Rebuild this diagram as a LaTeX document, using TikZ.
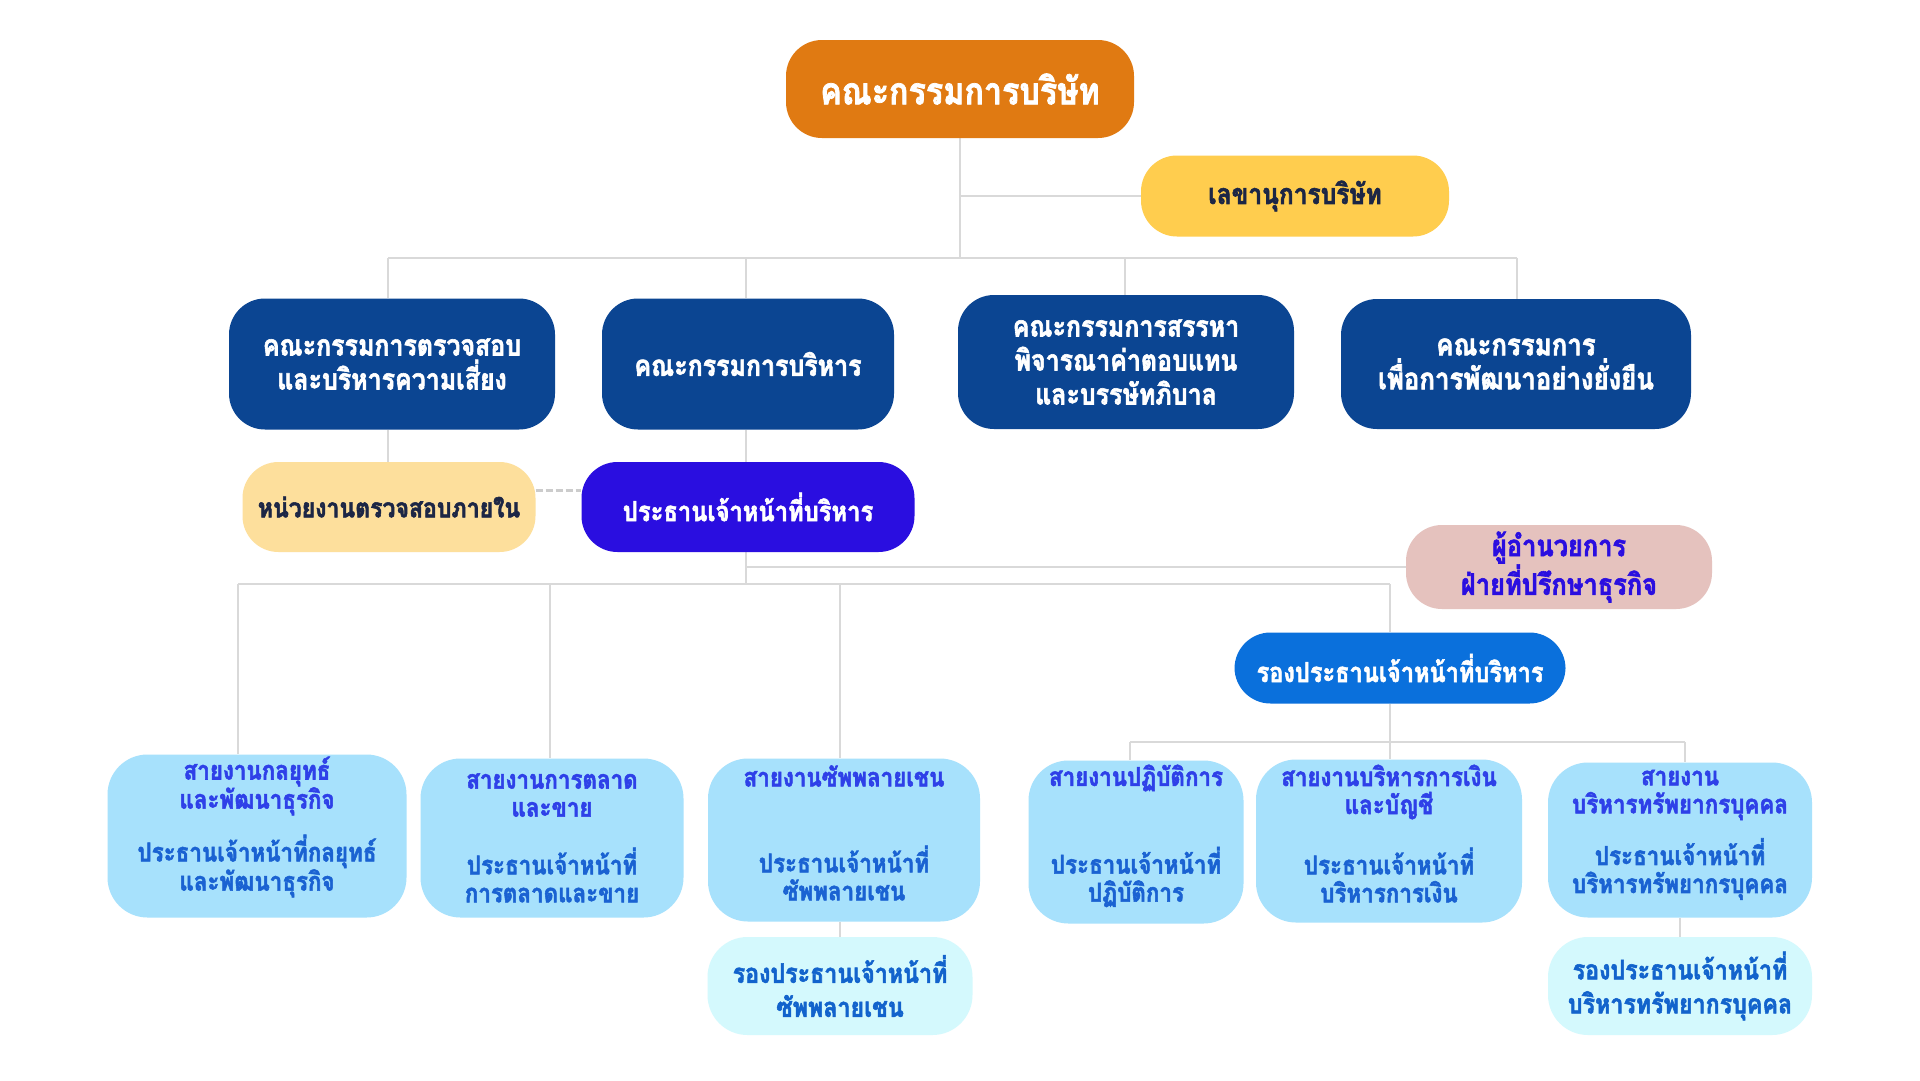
\documentclass[tikz,border=0pt]{standalone}
\usepackage{fontspec}
\newfontfamily\thai[Script=Thai,FakeStretch=0.86,BoldFeatures={FakeBold=2.0}]{Loma}
\usetikzlibrary{calc}
\pgfdeclarelayer{bg}
\pgfsetlayers{bg,main}
\definecolor{orangec}{HTML}{E07A12}
\definecolor{secc}{HTML}{FFCD4E}
\definecolor{navyc}{HTML}{0B4592}
\definecolor{auditc}{HTML}{FDDF9C}
\definecolor{ceoc}{HTML}{2A0EE0}
\definecolor{advc}{HTML}{E5C2BE}
\definecolor{depc}{HTML}{0A70DC}
\definecolor{lbluec}{HTML}{A7E1FC}
\definecolor{cyanc}{HTML}{D4F9FD}
\definecolor{lineg}{HTML}{D9D9D9}
\definecolor{dashg}{HTML}{CCCCCC}
\definecolor{darkt}{HTML}{1C2645}
\definecolor{titlet}{HTML}{2E40E8}
\definecolor{subt}{HTML}{1A62D2}
\definecolor{cyant}{HTML}{1263CC}
\begin{document}
\begin{tikzpicture}[x=1pt,y=-1pt,
  box/.style={rounded corners=36pt, inner sep=0pt, align=center, draw=none},
  navybox/.style={box, fill=navyc, text=white, font=\thai\bfseries\fontsize{29}{34}\selectfont},
  bluebox/.style={box, fill=lbluec, rounded corners=40pt},
  cyanbox/.style={box, fill=cyanc, text=cyant, rounded corners=40pt, font=\thai\bfseries\fontsize{27}{34}\selectfont},
  btitle/.style={align=center, inner sep=0pt, text=titlet, font=\thai\bfseries\fontsize{26}{28}\selectfont},
  bsub/.style={align=center, inner sep=0pt, text=subt, font=\thai\bfseries\fontsize{26}{28}\selectfont},
  link/.style={draw=lineg, line width=2.5pt},
  dashlink/.style={draw=dashg, line width=3pt, dash pattern=on 7pt off 3pt}]
\useasboundingbox (0,0) rectangle (1920,1080);

% ---------- junction points ----------
\coordinate (j0) at (960,258);
\coordinate (js) at (960,196);
\coordinate (r1) at (388,258);
\coordinate (r2) at (746,258);
\coordinate (r3) at (1125,258);
\coordinate (r4) at (1517,258);
\coordinate (j1) at (746,584);
\coordinate (ja) at (746,567);
\coordinate (d1) at (238,584);
\coordinate (d2) at (550,584);
\coordinate (d3) at (840,584);
\coordinate (d4) at (1390,584);
\coordinate (k0) at (1390,742);
\coordinate (k1) at (1130,742);
\coordinate (k3) at (1685,742);

% ---------- boxes ----------
\node[box, fill=orangec, text=white, minimum width=348pt, minimum height=98pt,
      font=\thai\bfseries\fontsize{37.5}{42}\selectfont] (board) at (960,89) {คณะกรรมการบริษัท};
\node[box, fill=secc, text=darkt, minimum width=308pt, minimum height=81pt,
      font=\thai\bfseries\fontsize{28.5}{32}\selectfont] (sec) at (1295,196) {เลขานุการบริษัท};

\node[navybox, minimum width=326pt, minimum height=131pt] (rc1) at (392,364) {คณะกรรมการตรวจสอบ\\และบริหารความเสี่ยง};
\node[navybox, minimum width=292pt, minimum height=131pt] (rc2) at (748,364) {คณะกรรมการบริหาร};
\node[navybox, minimum width=336pt, minimum height=134pt] (rc3) at (1126,362) {คณะกรรมการสรรหา\\พิจารณาค่าตอบแทน\\และบรรษัทภิบาล};
\node[navybox, minimum width=350pt, minimum height=130pt, font=\thai\bfseries\fontsize{30}{34}\selectfont] (rc4) at (1516,364) {คณะกรรมการ\\เพื่อการพัฒนาอย่างยั่งยืน};

\node[box, fill=auditc, text=darkt, minimum width=293pt, minimum height=90pt,
      font=\thai\bfseries\fontsize{26.8}{32}\selectfont] (audit) at (389,507) {หน่วยงานตรวจสอบภายใน};
\node[box, fill=ceoc, text=white, minimum width=333pt, minimum height=90pt,
      font=\thai\bfseries\fontsize{27.6}{32}\selectfont] (ceo) at (748,507) {ประธานเจ้าหน้าที่บริหาร};

\node[box, fill=advc, text=ceoc, minimum width=306pt, minimum height=84pt,
      font=\thai\bfseries\fontsize{29.5}{33}\selectfont] (adv) at (1559,567) {ผู้อำนวยการ\\ฝ่ายที่ปรึกษาธุรกิจ};
\node[box, fill=depc, text=white, minimum width=331pt, minimum height=71pt,
      font=\thai\bfseries\fontsize{27.4}{32}\selectfont] (dep) at (1400,668) {รองประธานเจ้าหน้าที่บริหาร};

\node[bluebox, minimum width=299pt, minimum height=163pt] (b1) at (257,836) {};
\node[bluebox, minimum width=263pt, minimum height=159pt] (b2) at (552,838) {};
\node[bluebox, minimum width=272pt, minimum height=163pt] (b3) at (844,840) {};
\node[bluebox, minimum width=215pt, minimum height=163pt] (b4) at (1136,842) {};
\node[bluebox, minimum width=266pt, minimum height=163pt] (b5) at (1389,841) {};
\node[bluebox, minimum width=264pt, minimum height=155pt] (b6) at (1680,840) {};

\node[cyanbox, minimum width=265pt, minimum height=98pt] (sa) at (840,986) {รองประธานเจ้าหน้าที่\\ซัพพลายเชน};
\node[cyanbox, minimum width=264pt, minimum height=98pt] (sb) at (1680,986) {รองประธานเจ้าหน้าที่\\บริหารทรัพยากรบุคคล};

% ---------- texts of the bottom boxes ----------
\node[btitle] (b1t) at (257,786) {สายงานกลยุทธ์\\และพัฒนาธุรกิจ};
\node[bsub]   (b1s) at (257,866) {ประธานเจ้าหน้าที่กลยุทธ์\\และพัฒนาธุรกิจ};
\node[btitle] (b2t) at (552,795) {สายงานการตลาด\\และขาย};
\node[bsub]   (b2s) at (552,875) {ประธานเจ้าหน้าที่\\การตลาดและขาย};
\node[btitle] (b3t) at (844,776) {สายงานซัพพลายเชน};
\node[bsub]   (b3s) at (844,873) {ประธานเจ้าหน้าที่\\ซัพพลายเชน};
\node[btitle] (b4t) at (1136,778) {สายงานปฏิบัติการ};
\node[bsub]   (b4s) at (1136,877) {ประธานเจ้าหน้าที่\\ปฏิบัติการ};
\node[btitle] (b5t) at (1389,792) {สายงานบริหารการเงิน\\และบัญชี};
\node[bsub]   (b5s) at (1389,875) {ประธานเจ้าหน้าที่\\บริหารการเงิน};
\node[btitle] (b6t) at (1680,795) {สายงาน\\บริหารทรัพยากรบุคคล};
\node[bsub]   (b6s) at (1680,869) {ประธานเจ้าหน้าที่\\บริหารทรัพยากรบุคคล};

% ---------- background and connectors (behind the boxes) ----------
\begin{pgfonlayer}{bg}
  \fill[white] (0,0) rectangle (1920,1080);
  \draw[link] (board.south) -- (j0);
  \draw[link] (js) -- (sec.west);
  \draw[link] (r1) -- (r4);
  \draw[link] (r1) -- (r1 |- rc1.north);
  \draw[link] (r2) -- (r2 |- rc2.north);
  \draw[link] (r3) -- (r3 |- rc3.north);
  \draw[link] (r4) -- (r4 |- rc4.north);
  \draw[link] (r1 |- rc1.south) -- (r1 |- audit.north);
  \draw[link] (r2 |- rc2.south) -- (r2 |- ceo.north);
  \draw[dashlink] ($(audit.east)+(0,-17)$) -- ($(ceo.west)+(0,-17)$);
  \draw[link] (j1 |- ceo.south) -- (j1);
  \draw[link] (ja) -- (adv.west);
  \draw[link] (d1) -- (d4);
  \draw[link] (d1) -- (d1 |- b1.north);
  \draw[link] (d2) -- (d2 |- b2.north);
  \draw[link] (d3) -- (d3 |- b3.north);
  \draw[link] (d4) -- (d4 |- dep.north);
  \draw[link] (d4 |- dep.south) -- (k0);
  \draw[link] (k1) -- (k3);
  \draw[link] (k1) -- (k1 |- b4.north);
  \draw[link] (k0) -- (k0 |- b5.north);
  \draw[link] (k3) -- (k3 |- b6.north);
  \draw[link] (sa.north |- b3.south) -- (sa.north);
  \draw[link] (b6.south) -- (sb.north);
\end{pgfonlayer}
\end{tikzpicture}
\end{document}
